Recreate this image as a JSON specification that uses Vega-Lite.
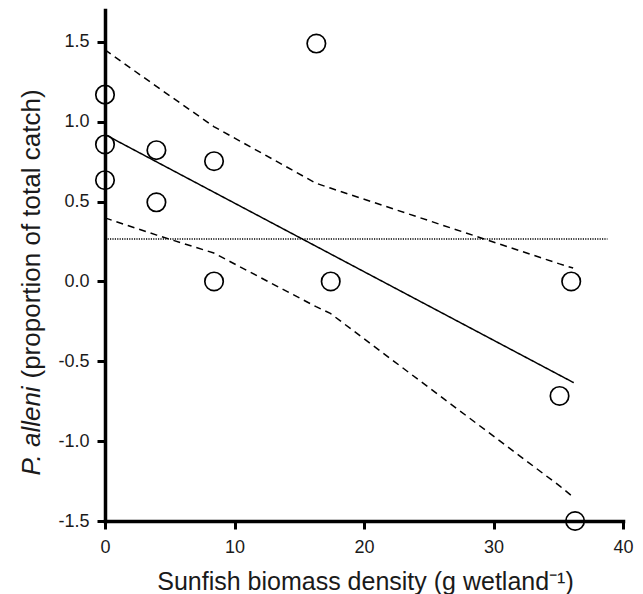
{
  "$schema": "https://vega.github.io/schema/vega-lite/v6.json",
  "width": 518,
  "height": 511,
  "autosize": {"type": "none"},
  "padding": {"left": 105, "top": 10, "right": 20, "bottom": 73},
  "background": "white",
  "config": {
    "view": {"stroke": null},
    "font": "Liberation Sans",
    "axis": {
      "grid": false,
      "domainColor": "black",
      "domainWidth": 3.5,
      "domainCap": "square",
      "tickColor": "black",
      "tickWidth": 3,
      "tickSize": 8,
      "labelFont": "Liberation Sans",
      "labelFontSize": 18,
      "labelColor": "#1a1a1a",
      "labelFlush": false,
      "labelOverlap": false,
      "titleFont": "Liberation Sans",
      "titleFontWeight": "normal",
      "titleColor": "#1a1a1a"
    }
  },
  "datasets": {
    "points": [
      {"biomass": 0, "palleni": 1.17},
      {"biomass": 0, "palleni": 0.858},
      {"biomass": 0, "palleni": 0.634},
      {"biomass": 3.97, "palleni": 0.822},
      {"biomass": 3.97, "palleni": 0.496},
      {"biomass": 8.42, "palleni": 0.753},
      {"biomass": 8.42, "palleni": 0.0},
      {"biomass": 16.32, "palleni": 1.49},
      {"biomass": 17.43, "palleni": 0.0},
      {"biomass": 36.0, "palleni": 0.0},
      {"biomass": 35.1, "palleni": -0.717},
      {"biomass": 36.3, "palleni": -1.5}
    ],
    "lines": [
      {"series": "fit", "kind": "fit", "biomass": 0, "value": 0.92},
      {"series": "fit", "kind": "fit", "biomass": 36.2, "value": -0.634},
      {"series": "upper", "kind": "band", "biomass": 0, "value": 1.45},
      {"series": "upper", "kind": "band", "biomass": 4, "value": 1.22},
      {"series": "upper", "kind": "band", "biomass": 8.4, "value": 0.97},
      {"series": "upper", "kind": "band", "biomass": 16.3, "value": 0.615},
      {"series": "upper", "kind": "band", "biomass": 17.4, "value": 0.585},
      {"series": "upper", "kind": "band", "biomass": 35.1, "value": 0.11},
      {"series": "upper", "kind": "band", "biomass": 36.15, "value": 0.084},
      {"series": "lower", "kind": "band", "biomass": 0, "value": 0.398},
      {"series": "lower", "kind": "band", "biomass": 4, "value": 0.29},
      {"series": "lower", "kind": "band", "biomass": 8.4, "value": 0.178},
      {"series": "lower", "kind": "band", "biomass": 16.3, "value": -0.158},
      {"series": "lower", "kind": "band", "biomass": 17.4, "value": -0.2},
      {"series": "lower", "kind": "band", "biomass": 35.1, "value": -1.28},
      {"series": "lower", "kind": "band", "biomass": 36.2, "value": -1.353}
    ],
    "reference": [
      {"start": 0.2, "end": 38.8, "level": 0.266}
    ]
  },
  "resolve": {"axis": {"y": "independent"}},
  "layer": [
    {
      "data": {"name": "lines"},
      "mark": {"type": "line", "color": "black", "strokeWidth": 1.5},
      "encoding": {
        "x": {
          "field": "biomass",
          "type": "quantitative",
          "scale": {"domain": [0, 40], "nice": false, "zero": false},
          "axis": {
            "values": [0, 10, 20, 30, 40],
            "format": "d",
            "labelPadding": 9,
            "title": "Sunfish biomass density (g wetland⁻¹)",
            "titleFontSize": 25,
            "titleX": 260,
            "titleY": 68,
            "titleAlign": "center",
            "titleBaseline": "alphabetic"
          }
        },
        "y": {
          "field": "value",
          "type": "quantitative",
          "scale": {"domain": [-1.5, 1.7], "nice": false, "zero": false},
          "axis": {
            "orient": "left",
            "values": [-1.5, -1, -0.5, 0, 0.5, 1, 1.5],
            "labelExpr": "replace(format(datum.value, '.1f'), '\u2212', '-')",
            "labelPadding": 8,
            "title": "(proportion of total catch)",
            "titleFontSize": 26,
            "titleAngle": 270,
            "titleAlign": "left",
            "titleBaseline": "alphabetic",
            "titleX": -65.5,
            "titleY": 368
          }
        },
        "detail": {"field": "series", "type": "nominal"},
        "strokeDash": {
          "field": "kind",
          "type": "nominal",
          "scale": {"domain": ["fit", "band"], "range": [[1, 0], [7, 5]]},
          "legend": null
        }
      }
    },
    {
      "data": {"name": "reference"},
      "mark": {"type": "rule", "color": "black", "strokeWidth": 1.3, "strokeDash": [1.2, 1.2]},
      "encoding": {
        "x": {"field": "start", "type": "quantitative", "scale": {"domain": [0, 40], "nice": false, "zero": false}},
        "x2": {"field": "end"},
        "y": {"field": "level", "type": "quantitative", "scale": {"domain": [-1.5, 1.7], "nice": false, "zero": false}, "axis": null}
      }
    },
    {
      "data": {"name": "points"},
      "mark": {"type": "point", "shape": "circle", "filled": false, "size": 340, "strokeWidth": 1.7, "color": "black", "opacity": 1},
      "encoding": {
        "x": {"field": "biomass", "type": "quantitative", "scale": {"domain": [0, 40], "nice": false, "zero": false}},
        "y": {
          "field": "palleni",
          "type": "quantitative",
          "scale": {"domain": [-1.5, 1.7], "nice": false, "zero": false},
          "axis": {
            "orient": "right",
            "domain": false,
            "ticks": false,
            "labels": false,
            "title": "P. alleni",
            "titleFontStyle": "italic",
            "titleFontSize": 26,
            "titleAngle": 270,
            "titleAlign": "left",
            "titleBaseline": "alphabetic",
            "titleX": -583.5,
            "titleY": 465
          }
        }
      }
    }
  ]
}
